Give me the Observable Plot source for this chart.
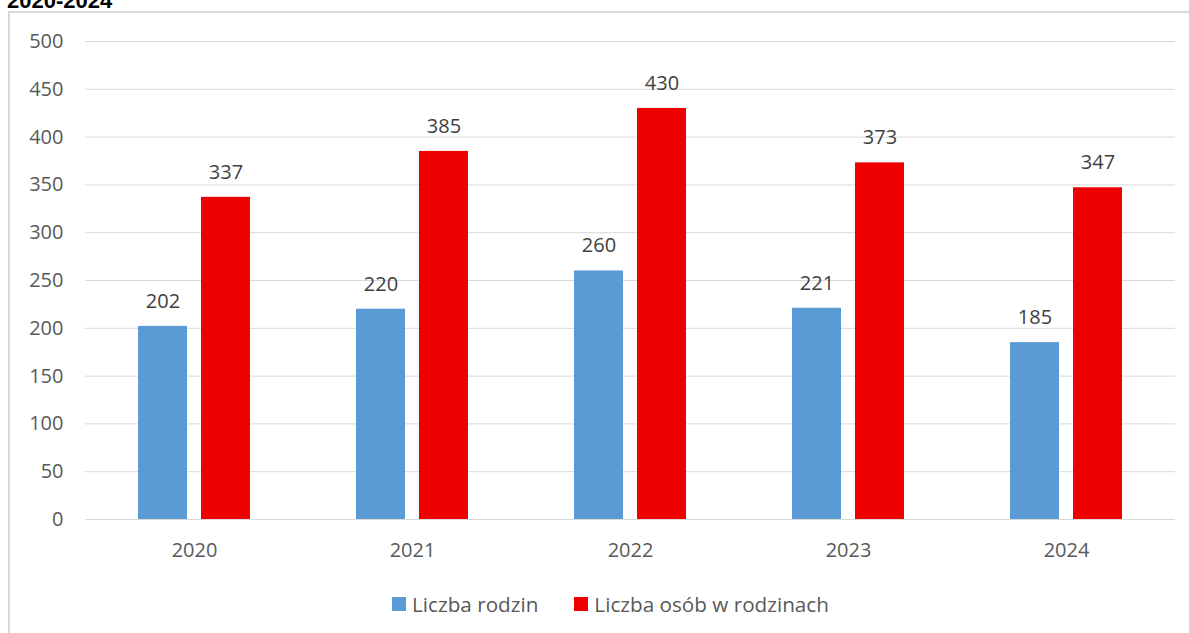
<!DOCTYPE html>
<html>
<head>
<meta charset="utf-8">
<script src="https://cdn.jsdelivr.net/npm/d3@7"></script>
<script src="https://cdn.jsdelivr.net/npm/@observablehq/plot@0.6"></script>
<style>
  html, body { margin: 0; padding: 0; background: #fff; width: 1189px; height: 633px; overflow: hidden; position: relative; }
  #title { position: absolute; left: 7px; top: -12px; font: bold 22px "Liberation Sans", Arial, sans-serif; color: #000; line-height: 26px; }
  #frame { position: absolute; left: 8px; top: 11px; width: 1200px; height: 660px; border: 2px solid #d9d9d9; box-sizing: border-box; }
  #chart { position: absolute; left: 0; top: 20px; }
  #legend { position: absolute; top: 590px; left: 16px; width: 1189px; display: flex; justify-content: center; font: 20.7px "Open Sans", sans-serif; color: #595959; line-height: 28px; }
  .item { display: flex; align-items: center; }
  .sw { width: 14px; height: 14px; margin-right: 6px; }
</style>
</head>
<body>
<div id="title">2020-2024</div>
<div id="frame"></div>
<div id="chart"></div>
<div id="legend"></div>
<script>
const years = ["2020", "2021", "2022", "2023", "2024"];
const families = [202, 220, 260, 221, 185];
const persons = [337, 385, 430, 373, 347];
const seriesNames = ["Liczba rodzin", "Liczba osób w rodzinach"];
const seriesColors = ["#5B9BD5", "#EE0000"];
const yTicks = [0, 50, 100, 150, 200, 250, 300, 350, 400, 450, 500];

const data = [];
years.forEach((y, i) => {
  data.push({year: y, series: seriesNames[0], value: families[i]});
  data.push({year: y, series: seriesNames[1], value: persons[i]});
});

const chart = Plot.plot({
  width: 1189,
  height: 560,
  marginLeft: 84,
  marginRight: 14,
  marginTop: 21,
  marginBottom: 61,
  style: {fontFamily: "'Open Sans', sans-serif", fontSize: "20px", color: "#595959", background: "transparent"},
  fx: {domain: years, padding: 0, label: null, axis: null},
  x: {domain: seriesNames, paddingInner: 0.22, paddingOuter: 0.84, axis: null},
  y: {domain: [0, 500], ticks: yTicks, label: null, axis: null},
  color: {domain: seriesNames, range: seriesColors},
  marks: [
    Plot.gridY(yTicks, {stroke: "#d9d9d9", strokeOpacity: 1, strokeWidth: 1}),
    Plot.axisY(yTicks, {tickSize: 0, tickPadding: 22, fontSize: 20, fill: "#595959", label: null}),
    Plot.axisFx({anchor: "bottom", tickSize: 0, tickPadding: 23, fontSize: 20, fill: "#595959", label: null}),
    Plot.barY(data, {fx: "year", x: "series", y: "value", fill: "series"}),
    Plot.text(data, {fx: "year", x: "series", y: "value", text: d => String(d.value), dy: -25, fontSize: 20, fill: "#404040"})
  ]
});
document.getElementById("chart").appendChild(chart);

const legend = document.getElementById("legend");
seriesNames.forEach((name, i) => {
  const item = document.createElement("div");
  item.className = "item";
  if (i > 0) item.style.marginLeft = "36px";
  const sw = document.createElement("div");
  sw.className = "sw";
  sw.style.background = seriesColors[i];
  const t = document.createElement("span");
  t.textContent = name;
  item.appendChild(sw);
  item.appendChild(t);
  legend.appendChild(item);
});
</script>
</body>
</html>
